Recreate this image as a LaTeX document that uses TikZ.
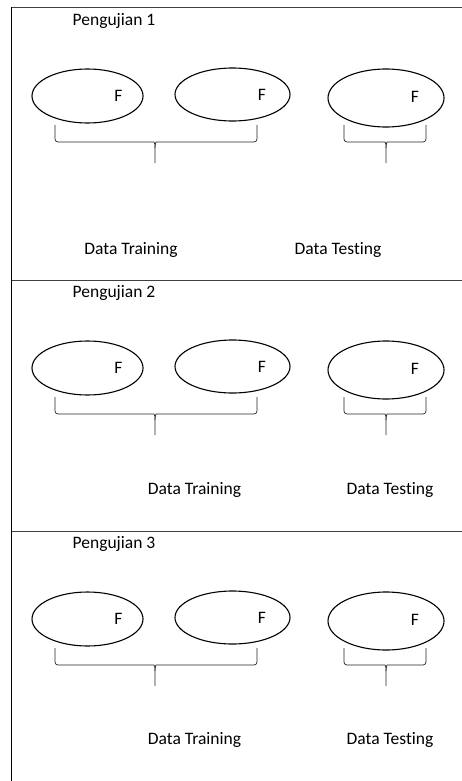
\documentclass[tikz,border=0pt]{standalone}
\usepackage{fontspec}
\setmainfont{Carlito}[Ligatures=NoCommon]
\usetikzlibrary{shapes.geometric}
\newcommand\drawsec[5]{%
  % #1 number, #2 vertical offset, #3 text y, #4 training x, #5 testing x
  \node[lbl, anchor=west] (p#1) at (72.5,{21+#2}) {Pengujian #1};
  \node[oval, minimum width=111pt, minimum height=54pt] (a#1) at (87.5,{96+#2}) {};
  \node[oval, minimum width=115pt, minimum height=53pt] (b#1) at (232.5,{94.5+#2}) {};
  \node[oval, minimum width=116pt, minimum height=58pt] (c#1) at (386,{98+#2}) {};
  \node[lbl] (fa#1) at (118.5,{96+#2}) {F};
  \node[lbl] (fb#1) at (262,{94.5+#2}) {F};
  \node[lbl] (fc#1) at (415,{97+#2}) {F};
  % left brace
  \draw[bracepath] (55,{125+#2}) -- (55,{142+#2}) -- (151,{142+#2})
     .. controls (154,{142+#2}) and (155,{144+#2}) .. (155,{148+#2}) -- (155,{163+#2});
  \draw[bracepath] (257,{125+#2}) -- (257,{142+#2}) -- (159,{142+#2})
     .. controls (156,{142+#2}) and (155,{144+#2}) .. (155,{148+#2});
  % right brace
  \draw[bracepath] (344,{125+#2}) -- (344,{142+#2}) -- (382,{142+#2})
     .. controls (385,{142+#2}) and (386,{144+#2}) .. (386,{148+#2}) -- (386,{163+#2});
  \draw[bracepath] (426,{125+#2}) -- (426,{142+#2}) -- (390,{142+#2})
     .. controls (387,{142+#2}) and (386,{144+#2}) .. (386,{148+#2});
  \node[lbl] (tr#1) at (#4,#3) {Data Training};
  \node[lbl] (te#1) at (#5,#3) {Data Testing};
}
\begin{document}
\begin{tikzpicture}[x=1pt,y=-1pt,
  oval/.style={draw, ellipse, line width=1.1pt, inner sep=0pt},
  lbl/.style={font=\fontsize{17.5}{20}\selectfont, inner sep=0pt},
  bracepath/.style={line width=0.7pt, black!85, rounded corners=3pt},
  rulel/.style={line width=0.8pt, black!75}]
  \useasboundingbox (0,0) rectangle (462,781);
  \fill[white] (0,0) rectangle (462,781);
  \coordinate (tl) at (11,7);
  \coordinate (tr) at (462,7);
  \coordinate (bl) at (11,781);
  \coordinate (s1l) at (11,280);
  \coordinate (s1r) at (462,280);
  \coordinate (s2l) at (11,531.5);
  \coordinate (s2r) at (462,531.5);
  \draw[rulel] (tl) -- (tr);
  \draw[rulel] (s1l) -- (s1r);
  \draw[rulel] (s2l) -- (s2r);
  \draw[line width=0.9pt, black] (tl) -- (bl);
  \drawsec{1}{0}{250}{131}{338}
  \drawsec{2}{272}{490}{194.5}{390}
  \drawsec{3}{523}{740}{194.5}{390}
\end{tikzpicture}
\end{document}
